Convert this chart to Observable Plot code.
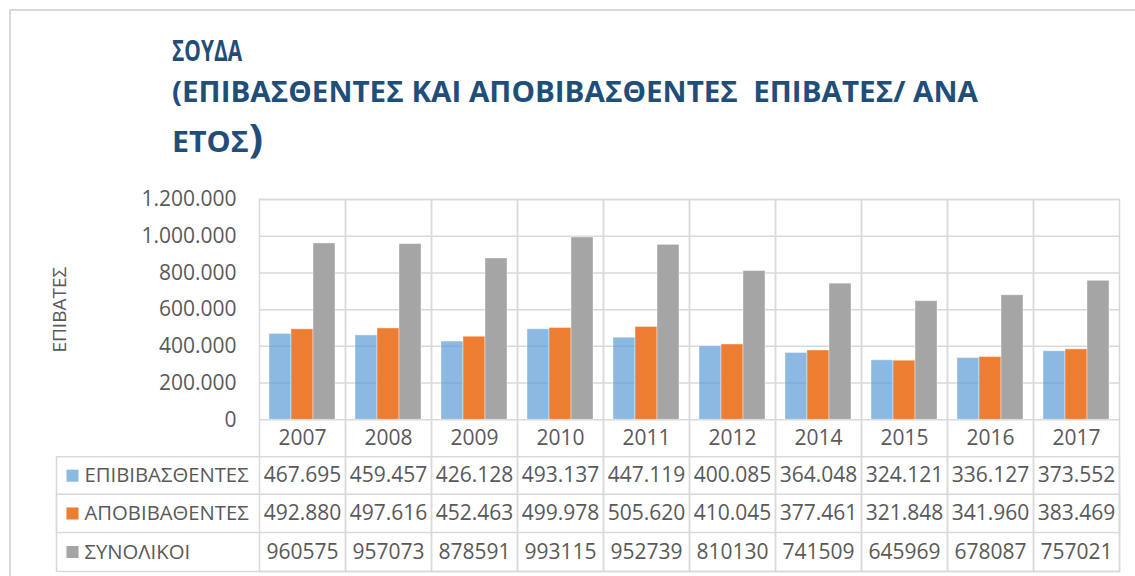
<!DOCTYPE html>
<html>
<head>
<meta charset="utf-8">
<script src="https://cdn.jsdelivr.net/npm/d3@7"></script>
<script src="https://cdn.jsdelivr.net/npm/@observablehq/plot@0.6"></script>
<style>
  html, body { margin: 0; padding: 0; background: #fff; }
  #wrap { position: relative; width: 1135px; height: 576px; overflow: hidden; }
  #border { position: absolute; left: 9px; top: 9px; width: 1300px; height: 800px;
            border-left: 2px solid #d9d9d9; border-top: 2px solid #d9d9d9; }
  #title { position: relative; height: 180px; font-family: "Open Sans", sans-serif;
           font-weight: 700; color: #1F4E79; }
  #title .ln { position: absolute; left: 172px; font-size: 28px; line-height: 28px;
               white-space: pre; display: inline-block; transform-origin: 0 0; }
  #chart { position: relative; }
</style>
</head>
<body>
<div id="wrap">
  <div id="border"></div>
  <div id="title">
    <span class="ln" id="t1" style="top:36px">ΣΟΥΔΑ</span>
    <span class="ln" id="t2" style="top:77px">(ΕΠΙΒΑΣΘΕΝΤΕΣ ΚΑΙ ΑΠΟΒΙΒΑΣΘΕΝΤΕΣ  ΕΠΙΒΑΤΕΣ/ ΑΝΑ</span>
    <span class="ln" id="t3" style="top:127px">ΕΤΟΣ<span style="font-size:39px;line-height:0">)</span></span>
  </div>
  <div id="chart"></div>
</div>
<script>
// ---- data ----
const years = [2007, 2008, 2009, 2010, 2011, 2012, 2014, 2015, 2016, 2017];
const seriesNames = ["ΕΠΙΒΙΒΑΣΘΕΝΤΕΣ", "ΑΠΟΒΙΒΑΘΕΝΤΕΣ", "ΣΥΝΟΛΙΚΟΙ"];
const embarked = [467695, 459457, 426128, 493137, 447119, 400085, 364048, 324121, 336127, 373552];
const disembarked = [492880, 497616, 452463, 499978, 505620, 410045, 377461, 321848, 341960, 383469];
const totals = [960575, 957073, 878591, 993115, 952739, 810130, 741509, 645969, 678087, 757021];
const yTicks = [0, 200000, 400000, 600000, 800000, 1000000, 1200000];
const yLabel = "ΕΠΙΒΑΤΕΣ";

// ---- styling ----
const colors = ["#5B9BD5", "#ED7D31", "#A5A5A5"];
const opac = [0.7, 1, 1];
const textColor = "#595959";
const lineColor = "#d9d9d9";
const fs = 21;

const grFmt = d3.formatLocale({decimal: ",", thousands: ".", grouping: [3], currency: ["", "€"]}).format(",d");
const plainFmt = d3.format("d");

const seriesValues = [embarked, disembarked, totals];
const rows = years.map((y, i) => ({year: y, e: embarked[i], a: disembarked[i], t: totals[i]}));
const long = [];
years.forEach((y, i) => seriesNames.forEach((s, k) => long.push({year: y, series: s, k, value: seriesValues[k][i]})));

// layout (px)
const W = 1135, H = 396, mL = 258, mR = 15, mT = 19, mB = 156.7;
const rowDy = [55.9, 93.7, 132.2];
const rowFmt = [grFmt, grFmt, plainFmt];
const rowKey = ["e", "a", "t"];

const marks = [
  Plot.gridY(yTicks, {stroke: lineColor, strokeOpacity: 1, strokeWidth: 1.5}),
  // column lines, down through the table
  Plot.frame({stroke: lineColor, strokeWidth: 1.5, insetBottom: -151.7}),
  // table row borders (incl. label column)
  Plot.frame({facet: "super", stroke: lineColor, strokeWidth: 1.5, insetLeft: -203, insetTop: 257.2, insetBottom: -151.7}),
  Plot.frame({facet: "super", stroke: lineColor, strokeWidth: 1.5, insetLeft: -203, insetTop: 294.7, insetBottom: -112.7}),
  Plot.barY(long, {fx: "year", x: "series", y: "value", fill: d => colors[d.k], fillOpacity: d => opac[d.k],
                    stroke: "white", strokeOpacity: 0.4, strokeWidth: 1}),
  Plot.axisY({ticks: yTicks, tickFormat: grFmt, tickSize: 0, tickPadding: 23, fontSize: fs, label: null, fill: textColor}),
  Plot.text(years, {fx: d => d, text: d => String(d), frameAnchor: "bottom", lineAnchor: "middle", dy: 18.6, fontSize: fs}),
  Plot.text([yLabel], {facet: "super", frameAnchor: "left", textAnchor: "middle", lineAnchor: "middle",
                       dx: -199.5, rotate: -90, fontSize: 19})
];
rowKey.forEach((key, i) => {
  marks.push(Plot.text(rows, {fx: "year", text: d => rowFmt[i](d[key]), frameAnchor: "bottom", lineAnchor: "middle",
                              dy: rowDy[i], fontSize: fs}));
  marks.push(Plot.dot([seriesNames[i]], {facet: "super", frameAnchor: "bottom-left", dx: -187, dy: rowDy[i],
                       symbol: "square", r: 6.8, fill: colors[i], fillOpacity: opac[i], stroke: "none"}));
  marks.push(Plot.text([seriesNames[i]], {facet: "super", frameAnchor: "bottom-left", dx: -175, dy: rowDy[i],
                        textAnchor: "start", lineAnchor: "middle", fontSize: 20.3}));
});

const chart = Plot.plot({
  width: W, height: H,
  marginLeft: mL, marginRight: mR, marginTop: mT, marginBottom: mB,
  style: {fontFamily: "'Open Sans', sans-serif", fontSize: fs + "px", color: textColor, background: "transparent"},
  fx: {domain: years, padding: 0, axis: null},
  x: {domain: seriesNames, paddingInner: 0, paddingOuter: 0.4545, axis: null},
  y: {domain: [0, 1200000], nice: false},
  marks
});
document.getElementById("chart").appendChild(chart);

// fit title line widths to the reference
const targets = {t1: 70, t2: 806, t3: 91};
for (const id in targets) {
  const el = document.getElementById(id);
  const w = el.getBoundingClientRect().width;
  el.style.transform = `scaleX(${targets[id] / w})`;
}
</script>
</body>
</html>
